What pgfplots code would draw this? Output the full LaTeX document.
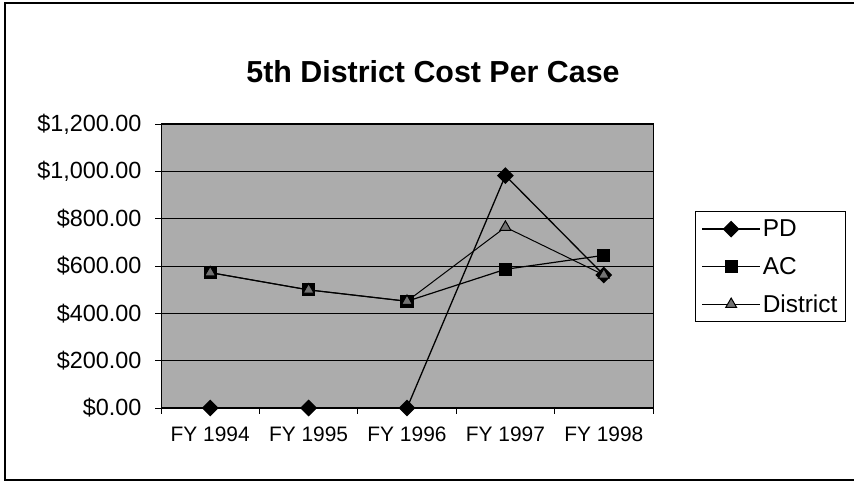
\documentclass[border=0pt]{standalone}
\usepackage{pgfplots}
\pgfplotsset{compat=1.18}
\usepackage{fontspec}
\setmainfont{Liberation Sans}
\definecolor{plotbg}{RGB}{172,172,172}
\begin{document}
\begin{tikzpicture}[x=1bp,y=1bp]
\useasboundingbox (0,0) rectangle (854,482);
\draw[line width=1.2bp] (854,479) -- (5,479) -- (5,2) -- (854,2);
\node[font=\bfseries\fontsize{30.5}{33}\selectfont] at (433,410) {5th District Cost Per Case};
\begin{axis}[
  at={(161bp,74bp)}, anchor=south west,
  scale only axis, width=492bp, height=284bp,
  xmin=-0.5, xmax=4.5, ymin=0, ymax=1200,
  xtick={-0.5,0.5,1.5,2.5,3.5,4.5}, xticklabels={{},{},{},{},{},{}},
  extra x ticks={0,1,2,3,4},
  extra x tick labels={FY 1994,FY 1995,FY 1996,FY 1997,FY 1998},
  extra x tick style={major tick length=0pt, grid=none},
  ytick={0,200,400,600,800,1000,1200},
  yticklabels={{\$0.00},{\$200.00},{\$400.00},{\$600.00},{\$800.00},{\$1,000.00},{\$1,200.00}},
  tick pos=left, tick align=outside, major tick length=6bp,
  tick style={black, line width=0.8bp},
  ymajorgrids, grid style={black, line width=0.8bp},
  axis line style={black, line width=1bp},
  axis background/.style={fill=plotbg},
  yticklabel style={font=\fontsize{23.5}{26}\selectfont, xshift=-10bp},
  xticklabel style={font=\fontsize{21}{24}\selectfont, yshift=-15bp},
  legend style={at={(1.0854,0.692)}, anchor=north west, draw=black, line width=1bp,
    font=\fontsize{24.5}{27}\selectfont, row sep=15bp, inner sep=6bp},
  legend cell align=left,
  legend image code/.code={\draw[mark repeat=2,mark phase=2] plot coordinates {(0bp,0bp)(29bp,0bp)(58bp,0bp)};},
]
\addplot[black, line width=1.3bp, mark=square*, mark size=5.3bp, mark options={fill=black, rotate=45}]
  coordinates {(0,0) (1,0) (2,0) (3,982) (4,562)};
\addlegendentry{PD}
\addplot[black, line width=1.2bp, mark=square*, mark size=6bp, mark options={fill=black}]
  coordinates {(0,572) (1,499) (2,451) (3,586) (4,645)};
\addlegendentry{AC}
\addplot[black, line width=1bp, mark=triangle*, mark size=6.3bp, mark options={fill=black!55, draw=black}]
  coordinates {(0,572) (1,499) (2,451) (3,764) (4,562)};
\addlegendentry{District}
\end{axis}
\end{tikzpicture}
\end{document}
